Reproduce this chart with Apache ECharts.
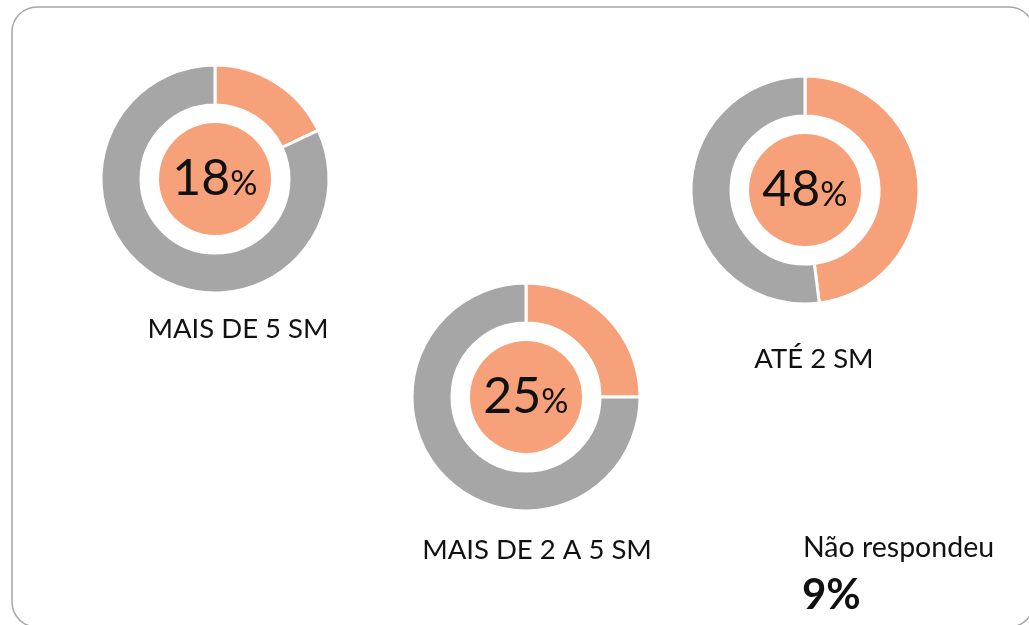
<!DOCTYPE html>
<html>
<head>
<meta charset="utf-8">
<script src="https://cdn.jsdelivr.net/npm/echarts@6/dist/echarts.min.js"></script>
<style>
  html, body { margin: 0; padding: 0; background: #fff; }
  #main { width: 1029px; height: 625px; }
</style>
</head>
<body>
<div id="main"></div>
<script>
// income bands and share of answers (%)
const categories = ['MAIS DE 5 SM', 'MAIS DE 2 A 5 SM', 'ATÉ 2 SM'];
const shares = [18, 25, 48];
const noAnswerLabel = 'Não respondeu';
const noAnswerShare = 9;

const orange = '#F7A17A';
const gray = '#A6A6A6';
const font = 'Lato';

// donut placement in px
const centers = [[215, 179], [526, 397], [805, 190]];
const labelPos = [[238, 329], [537, 550], [814, 359]];

const chart = echarts.init(document.getElementById('main'));

const series = [];
categories.forEach(function (name, i) {
  series.push({
    type: 'pie',
    center: centers[i],
    radius: [74, 114],
    startAngle: 90,
    clockwise: true,
    silent: true,
    label: { show: false },
    labelLine: { show: false },
    itemStyle: { borderColor: '#fff', borderWidth: 3 },
    data: [
      { name: name, value: shares[i], itemStyle: { color: orange } },
      { name: 'resto', value: 100 - shares[i], itemStyle: { color: gray } }
    ]
  });
  series.push({
    type: 'pie',
    center: centers[i],
    radius: [0, 56],
    silent: true,
    labelLine: { show: false },
    itemStyle: { color: orange },
    label: {
      show: true,
      position: 'center',
      formatter: function (p) { return '{n|' + p.value + '}{p|%}'; },
      rich: {
        n: { fontFamily: font, fontSize: 50, color: '#111' },
        p: { fontFamily: font, fontSize: 34, color: '#111', padding: [10, 0, 0, 0] }
      }
    },
    data: [{ name: name, value: shares[i] }]
  });
});

const graphic = [{
  type: 'rect',
  shape: { x: 12, y: 7, width: 1022, height: 620, r: 25 },
  style: { fill: 'none', stroke: '#A6A6A6', lineWidth: 1.5 },
  silent: true,
  z: -1
}];
categories.forEach(function (name, i) {
  graphic.push({
    type: 'text',
    x: labelPos[i][0],
    y: labelPos[i][1],
    style: {
      text: name, fontFamily: font, fontSize: 27.5, fill: '#111',
      textAlign: 'center', textVerticalAlign: 'middle'
    }
  });
});
graphic.push({
  type: 'text', x: 803, y: 548,
  style: { text: noAnswerLabel, fontFamily: font, fontSize: 28.5, fill: '#111', textAlign: 'left', textVerticalAlign: 'middle' }
});
graphic.push({
  type: 'text', x: 802, y: 595,
  style: { text: noAnswerShare + '%', fontFamily: font, fontSize: 42, fontWeight: 'bold', fill: '#111', textAlign: 'left', textVerticalAlign: 'middle' }
});

chart.setOption({
  backgroundColor: '#fff',
  animation: false,
  series: series,
  graphic: graphic
});
</script>
</body>
</html>
